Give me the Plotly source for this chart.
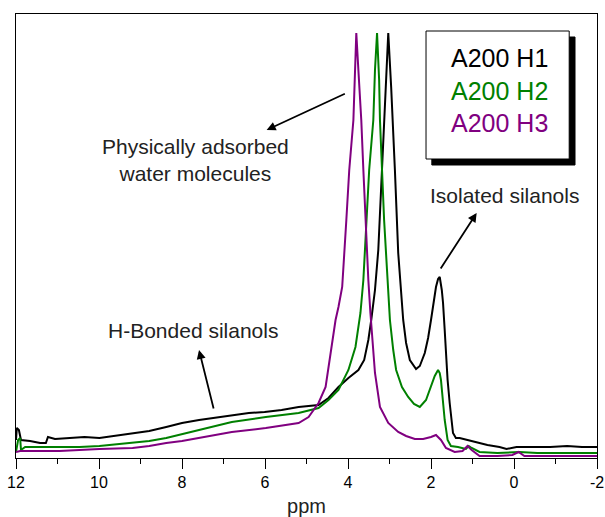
import plotly.graph_objects as go

# ---- data (ppm, intensity in arbitrary units) ----
h1_ppm = [12.00, 11.98, 11.93, 11.88, 11.66, 11.42, 11.28, 11.23, 11.06, 10.71, 10.35, 9.99, 9.63, 9.19,
          8.79, 8.38, 8.00, 7.59, 7.23, 6.80, 6.39, 6.01, 5.60, 5.19, 4.71, 4.47, 4.23, 3.99, 3.75, 3.61,
          3.51, 3.44, 3.35, 3.27, 3.20, 3.13, 3.08, 3.03, 2.96, 2.91, 2.87, 2.79, 2.72, 2.67, 2.60, 2.51,
          2.36, 2.27, 2.15, 2.07, 2.00, 1.93, 1.88, 1.83, 1.79, 1.74, 1.71, 1.67, 1.64, 1.60, 1.55, 1.50,
          1.47, 1.40, 1.31, 1.12, 0.92, 0.64, 0.35, 0.18, -0.06, -0.44, -0.87, -1.28, -1.64, -2.00]
h1_int = [18, 30, 28, 18, 17, 15, 15, 21, 19, 20, 21, 20, 22, 25,
          27, 31, 35, 38, 40, 43, 45, 46, 48, 51, 53, 60, 71, 80, 88, 98,
          118, 138, 168, 208, 271, 338, 388, 425, 371, 328, 288, 205, 163, 138, 115, 98,
          89, 92, 105, 120, 138, 158, 171, 179, 181, 168, 155, 128, 105, 78, 55, 33,
          25, 20, 20, 18, 16, 13, 11, 9, 11, 11, 11, 12, 11, 11]

h2_ppm = [12.00, 11.95, 11.90, 11.88, 11.78, 11.42, 11.18, 10.95, 10.47, 9.99, 9.19, 8.79, 8.38, 8.00,
          7.59, 6.80, 5.98, 5.19, 4.71, 4.47, 4.23, 3.99, 3.82, 3.70, 3.63, 3.56, 3.49, 3.39, 3.35, 3.30,
          3.25, 3.23, 3.18, 3.13, 3.06, 2.99, 2.91, 2.84, 2.70, 2.55, 2.41, 2.27, 2.12, 2.00, 1.91, 1.83,
          1.79, 1.76, 1.71, 1.67, 1.60, 1.52, 1.35, 1.16, 1.09, 1.02, 0.83, 0.40, -0.13, -0.56, -1.28, -2.00]
h2_int = [6, 18, 20, 8, 11, 11, 11, 11, 11, 12, 15, 17, 20, 24,
          28, 36, 41, 45, 50, 58, 68, 88, 111, 145, 178, 238, 288, 338, 388, 425,
          378, 338, 288, 238, 188, 138, 108, 88, 71, 61, 54, 51, 58, 71, 82, 88,
          85, 78, 58, 38, 18, 12, 11, 9, 12, 10, 6, 5, 6, 5, 5, 5]

h3_ppm = [12.00, 11.90, 11.42, 10.95, 9.99, 9.19, 8.79, 8.38, 8.00, 7.59, 6.80, 5.98, 5.43, 5.19, 4.95,
          4.71, 4.54, 4.40, 4.30, 4.23, 4.14, 4.04, 3.97, 3.87, 3.82, 3.80, 3.75, 3.68, 3.63, 3.58, 3.51,
          3.46, 3.39, 3.35, 3.23, 3.03, 2.79, 2.60, 2.39, 2.19, 2.00, 1.88, 1.76, 1.64, 1.43, 1.24, 1.12,
          1.02, 0.83, 0.40, 0.04, -0.11, -0.25, -0.80, -2.00]
h3_int = [6, 7, 7, 7, 9, 10, 12, 15, 17, 20, 26, 30, 33, 35, 41,
          55, 71, 111, 138, 151, 171, 238, 288, 338, 388, 425, 388, 338, 288, 238, 178,
          145, 108, 85, 51, 35, 26, 22, 19, 19, 21, 23, 18, 10, 6, 7, 12,
          8, 2, 2, 3, 6, 2, 2, 2]

series_names = ["A200 H1", "A200 H2", "A200 H3"]
series_colors = ["#000000", "#008000", "#800080"]

tick_vals = [12, 10, 8, 6, 4, 2, 0, -2]
tick_text = ["12", "10", "8", "6", "4", "2", "0", "-2"]

# annotation labels: (text, x ppm, y intensity)
labels = [
    ("Physically adsorbed<br>water molecules", 7.68, 298),
    ("Isolated silanols", 0.24, 263),
    ("H-Bonded silanols", 7.74, 128),
]
# arrows: head (x, y), tail (ax, ay)
arrows = [
    (5.96, 328, 4.04, 365),
    (0.90, 245, 1.79, 188),
    (7.59, 108, 7.23, 48),
]

FONT = "Liberation Sans, Arial, sans-serif"

fig = go.Figure()
for px, py, name, col in zip([h1_ppm, h2_ppm, h3_ppm], [h1_int, h2_int, h3_int],
                             series_names, series_colors):
    fig.add_trace(go.Scatter(x=px, y=py, mode="lines", name=name,
                             line=dict(color=col, width=2), showlegend=False))

# legend box with shadow
fig.add_shape(type="rect", x0=1.98, x1=-1.47, y0=293, y1=421, xref="x", yref="y",
              fillcolor="black", line=dict(color="black", width=1))
fig.add_shape(type="rect", x0=2.12, x1=-1.33, y0=299, y1=427, xref="x", yref="y",
              fillcolor="white", line=dict(color="black", width=1))
for name, col, yy in zip(series_names, series_colors, [400, 367, 335]):
    fig.add_annotation(x=0.35, y=yy, xref="x", yref="y", text=name, showarrow=False,
                       font=dict(family=FONT, size=25, color=col), xanchor="center", yanchor="middle")

for text, x, y in labels:
    fig.add_annotation(x=x, y=y, xref="x", yref="y", text=text, showarrow=False,
                       font=dict(family=FONT, size=21, color="#222222"),
                       xanchor="center", yanchor="middle")
for hx, hy, tx, ty in arrows:
    fig.add_annotation(x=hx, y=hy, ax=tx, ay=ty, xref="x", yref="y", axref="x", ayref="y",
                       text="", showarrow=True, arrowhead=2, arrowsize=1, arrowwidth=1.8,
                       arrowcolor="black")

fig.update_layout(
    width=605, height=517,
    margin=dict(l=16, r=8, t=14, b=59),
    paper_bgcolor="white", plot_bgcolor="white",
    font=dict(family=FONT, color="black"),
    xaxis=dict(range=[12, -2], tickmode="array", tickvals=tick_vals, ticktext=tick_text,
               ticks="outside", ticklen=10, tickwidth=1, automargin=False,
               tickcolor="black", showline=True, linecolor="black", linewidth=1, mirror=True,
               showgrid=False, zeroline=False, ticklabeloverflow="allow",
               tickfont=dict(family=FONT, size=16, color="black"),
               minor=dict(dtick=1, tick0=0, ticks="outside", ticklen=5, tickcolor="black", showgrid=False),
               title=dict(text="ppm", font=dict(family=FONT, size=20, color="#222222"), standoff=10)),
    yaxis=dict(range=[0, 444], showticklabels=False, ticks="", showline=True, linecolor="black",
               linewidth=1, mirror=True, showgrid=False, zeroline=False, automargin=False),
)

fig.write_html("out.html")
